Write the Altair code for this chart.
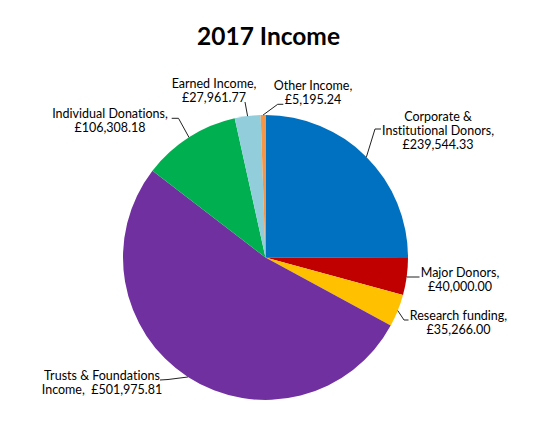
import math
import altair as alt
import pandas as pd

# ---- data -------------------------------------------------------------
categories = [
    "Corporate & Institutional Donors",
    "Major Donors",
    "Research funding",
    "Trusts & Foundations Income",
    "Individual Donations",
    "Earned Income",
    "Other Income",
]
values = [239544.33, 40000.00, 35266.00, 501975.81, 106308.18, 27961.77, 5195.24]
label_lines = [
    ["Corporate &", "Institutional Donors,", "£239,544.33"],
    ["Major Donors,", "£40,000.00"],
    ["Research funding,", "£35,266.00"],
    ["Trusts & Foundations", "Income,\u00a0 £501,975.81"],
    ["Individual Donations,", "£106,308.18"],
    ["Earned Income,", "£27,961.77"],
    ["Other Income,", "£5,195.24"],
]
colors = ["#0070C0", "#C00000", "#FFC000", "#7030A0", "#00B050", "#92CDDC", "#F79646"]
title_text = "2017 Income"

# ---- layout / style (page pixel coordinates) --------------------------
W, H = 534, 432
CX, CY, R = 265.5, 257.5, 142.5
FONT = "Lato"
LINE_H = 14.0
# per label: leader elbow, leader end, text centre x, first baseline y
label_layout = [
    dict(elbow=(375, 129), end=(381, 129), tx=438, ty=121),
    dict(elbow=(407, 277), end=(419.5, 277), tx=460, ty=277),
    dict(elbow=(404, 320), end=(408.5, 320), tx=458.5, ty=320),
    dict(elbow=(168, 379.5), end=(160, 380), tx=102, ty=380),
    dict(elbow=(178.5, 118.3), end=(171.7, 118.3), tx=110, ty=117.7),
    dict(elbow=(245, 102), end=(245, 102), tx=214, ty=87.5),
    dict(elbow=(277.7, 104.3), end=(283.3, 104.3), tx=313, ty=90),
]

# ---- derived tables ---------------------------------------------------
total = sum(values)
pie = pd.DataFrame({
    "category": categories,
    "value": values,
    "idx": list(range(len(categories))),
    "cx": [CX] * len(categories),
    "cy": [CY] * len(categories),
})

leader_rows, text_rows = [], []
cum = 0.0
for i, (cat, v) in enumerate(zip(categories, values)):
    mid = (cum + v / 2) / total * 2 * math.pi
    cum += v
    sx, sy = CX + R * math.sin(mid), CY - R * math.cos(mid)
    lay = label_layout[i]
    pts = [(sx, sy), lay["elbow"], lay["end"]]
    for k, (px, py) in enumerate(pts):
        leader_rows.append({"cat": cat, "k": k, "x": px, "y": py})
    for j, line in enumerate(label_lines[i]):
        text_rows.append({"cat": cat, "text": line, "x": lay["tx"], "y": lay["ty"] + j * LINE_H})

leaders = pd.DataFrame(leader_rows)
texts = pd.DataFrame(text_rows)
title_df = pd.DataFrame({"text": [title_text], "x": [268.5], "y": [45]})

xs = alt.Scale(domain=[8, 8 + W], nice=False, zero=False)
ys = alt.Scale(domain=[8, 8 + H], nice=False, zero=False, reverse=True)

arcs = alt.Chart(pie).mark_arc(outerRadius=R).encode(
    x=alt.X("cx:Q", scale=xs, axis=None),
    y=alt.Y("cy:Q", scale=ys, axis=None),
    theta=alt.Theta("value:Q", stack=True),
    color=alt.Color("category:N", scale=alt.Scale(domain=categories, range=colors), legend=None),
    order=alt.Order("idx:Q", sort="ascending"),
)

lines = alt.Chart(leaders).mark_line(color="#222222", strokeWidth=1).encode(
    x=alt.X("x:Q", scale=xs, axis=None),
    y=alt.Y("y:Q", scale=ys, axis=None),
    detail="cat:N",
    order="k:Q",
)

labels = alt.Chart(texts).mark_text(
    font=FONT, fontSize=12.5, color="#000000", align="center", baseline="alphabetic"
).encode(
    x=alt.X("x:Q", scale=xs, axis=None),
    y=alt.Y("y:Q", scale=ys, axis=None),
    text="text:N",
)

title = alt.Chart(title_df).mark_text(
    font=FONT, fontSize=24.5, fontWeight="bold", color="#000000", align="center", baseline="alphabetic"
).encode(
    x=alt.X("x:Q", scale=xs, axis=None),
    y=alt.Y("y:Q", scale=ys, axis=None),
    text="text:N",
)

chart = alt.layer(arcs, lines, labels, title).properties(
    width=W, height=H, autosize=alt.AutoSizeParams(type="none"), padding=0
).configure_view(stroke=None)

chart.save("out.html", embed_options={"renderer": "svg", "actions": False})

# turn off the font's "ti" ligatures so the labels read like the original
with open("out.html", encoding="utf-8") as f:
    html = f.read()
style = ('<style>svg text{font-variant-ligatures:none;'
         'font-feature-settings:"liga" 0,"dlig" 0,"clig" 0;}</style>')
html = html.replace("</head>", style + "</head>", 1)
with open("out.html", "w", encoding="utf-8") as f:
    f.write(html)
